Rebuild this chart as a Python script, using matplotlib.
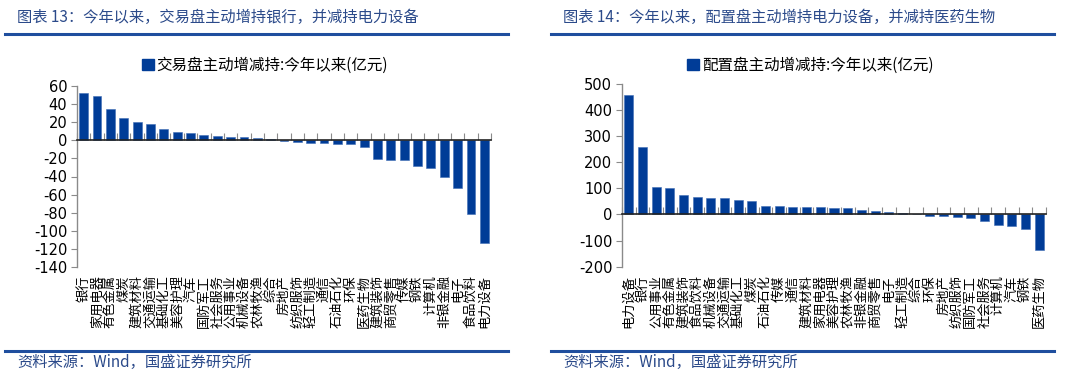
import numpy as np
import matplotlib
matplotlib.use("Agg")
import matplotlib.pyplot as plt
from matplotlib.lines import Line2D
from matplotlib.patches import Rectangle

plt.rcParams['font.family'] = ['Noto Sans CJK SC', 'DejaVu Sans']
plt.rcParams['axes.unicode_minus'] = False

# ---------------- data ----------------
left_title = "图表 13：今年以来，交易盘主动增持银行，并减持电力设备"
left_legend = "交易盘主动增减持:今年以来(亿元)"
left_cats = ['银行', '家用电器', '有色金属', '煤炭', '建筑材料', '交通运输', '基础化工',
             '美容护理', '汽车', '国防军工', '社会服务', '公用事业', '机械设备', '农林牧渔',
             '综合', '房地产', '纺织服饰', '轻工制造', '通信', '石油石化', '环保', '医药生物',
             '建筑装饰', '商贸零售', '传媒', '钢铁', '计算机', '非银金融', '电子', '食品饮料',
             '电力设备']
left_vals = [52, 49, 35, 24.5, 20, 17.5, 12.5, 9.5, 8.5, 5.5, 5, 4, 3.5, 2.5,
             1.5, -1, -1.5, -3, -3.5, -4, -4.5, -7, -20.5, -21.5, -21.5, -28, -31,
             -40, -53, -81, -113]
left_yticks = [60, 40, 20, 0, -20, -40, -60, -80, -100, -120, -140]

right_title = "图表 14：今年以来，配置盘主动增持电力设备，并减持医药生物"
right_legend = "配置盘主动增减持:今年以来(亿元)"
right_cats = ['电力设备', '银行', '公用事业', '有色金属', '建筑装饰', '食品饮料', '机械设备',
              '交通运输', '基础化工', '煤炭', '石油石化', '传媒', '通信', '建筑材料',
              '家用电器', '美容护理', '农林牧渔', '非银金融', '商贸零售', '电子', '轻工制造',
              '综合', '环保', '房地产', '纺织服饰', '国防军工', '社会服务', '计算机', '汽车',
              '钢铁', '医药生物']
right_vals = [459, 260, 105, 103, 73, 67, 64, 63, 54, 53, 32, 32, 28, 27,
              27, 26, 25, 18, 14, 9, 7, 3, -4, -5, -8, -14, -24, -40, -45, -57, -136]
right_yticks = [500, 400, 300, 200, 100, 0, -100, -200]

source_text = "资料来源：Wind，国盛证券研究所"

# ---------------- style ----------------
BAR = '#003C97'
TITLE_C = '#2B4A8A'
RULE_C = '#1F4E9E'
GRAY = '#8A8A8A'

fig = plt.figure(figsize=(10.8, 3.84), dpi=100)


def panel(rect, cats, vals, yticks, title, legend_text, px0, legend_x):
    ax = fig.add_axes(rect)
    x = np.arange(len(cats))
    ax.bar(x, vals, width=0.66, color=BAR, edgecolor='#3F6DB5', linewidth=0.4, zorder=2)
    ax.set_xlim(-0.5, len(cats) - 0.5)
    ax.set_ylim(min(yticks), max(yticks))
    ax.set_yticks(yticks)
    ax.set_yticklabels([str(v) for v in yticks], family='DejaVu Sans', fontsize=10.5)
    ax.tick_params(axis='y', direction='out', length=4, color=GRAY, pad=3)
    for s in ('top', 'right'):
        ax.spines[s].set_visible(False)
    ax.spines['left'].set_color(GRAY)
    ax.spines['left'].set_linewidth(1)
    ax.spines['bottom'].set_position(('data', 0))
    ax.spines['bottom'].set_color('#222222')
    ax.spines['bottom'].set_linewidth(1.2)
    ax.spines['bottom'].set_zorder(3)
    ax.set_xticks(x)
    ax.set_xticks(np.arange(len(cats) + 1) - 0.5, minor=True)
    ax.tick_params(axis='x', which='major', length=0, labelbottom=False)
    ax.tick_params(axis='x', which='minor', direction='in', length=5, color=GRAY,
                   width=0.8, labelbottom=False)
    sec = ax.secondary_xaxis('bottom')
    sec.set_xticks(x, labels=cats)
    sec.tick_params(length=0, pad=6)
    for lab in sec.get_xticklabels():
        lab.set_rotation(90)
        lab.set_fontsize(9.5)
        lab.set_va('top')
        lab.set_ha('center')
    sec.spines['bottom'].set_visible(False)

    # title, rules, footer
    fig.text(px0 + 12 / 1080, 1 - 17 / 384, title, fontsize=11, color=TITLE_C,
             ha='left', va='center')
    fig.add_artist(Line2D([px0, px0 + 503 / 1080], [1 - 33.5 / 384] * 2,
                          color=RULE_C, lw=2.2, transform=fig.transFigure))
    fig.add_artist(Line2D([px0, px0 + 503 / 1080], [1 - 351 / 384] * 2,
                          color=RULE_C, lw=2.2, transform=fig.transFigure))
    fig.text(px0 + 12 / 1080, 1 - 362.5 / 384, source_text, fontsize=11, color=TITLE_C,
             ha='left', va='center')
    handle = Rectangle((0, 0), 1, 1, color=BAR)
    fig.legend([handle], [legend_text], loc='center', bbox_to_anchor=(legend_x, 1 - 65.5 / 384),
               frameon=False, fontsize=11.2, handlelength=0.75, handleheight=0.75,
               handletextpad=0.2, borderpad=0)
    return ax


panel([77 / 1080, 1 - 267 / 384, 414 / 1080, 181 / 384], left_cats, left_vals, left_yticks,
      left_title, left_legend, 5 / 1080, 265 / 1080)
panel([622 / 1080, 1 - 266.7 / 384, 424 / 1080, 182.7 / 384], right_cats, right_vals, right_yticks,
      right_title, right_legend, 551 / 1080, 810 / 1080)

fig.savefig('out.png', dpi=100)
